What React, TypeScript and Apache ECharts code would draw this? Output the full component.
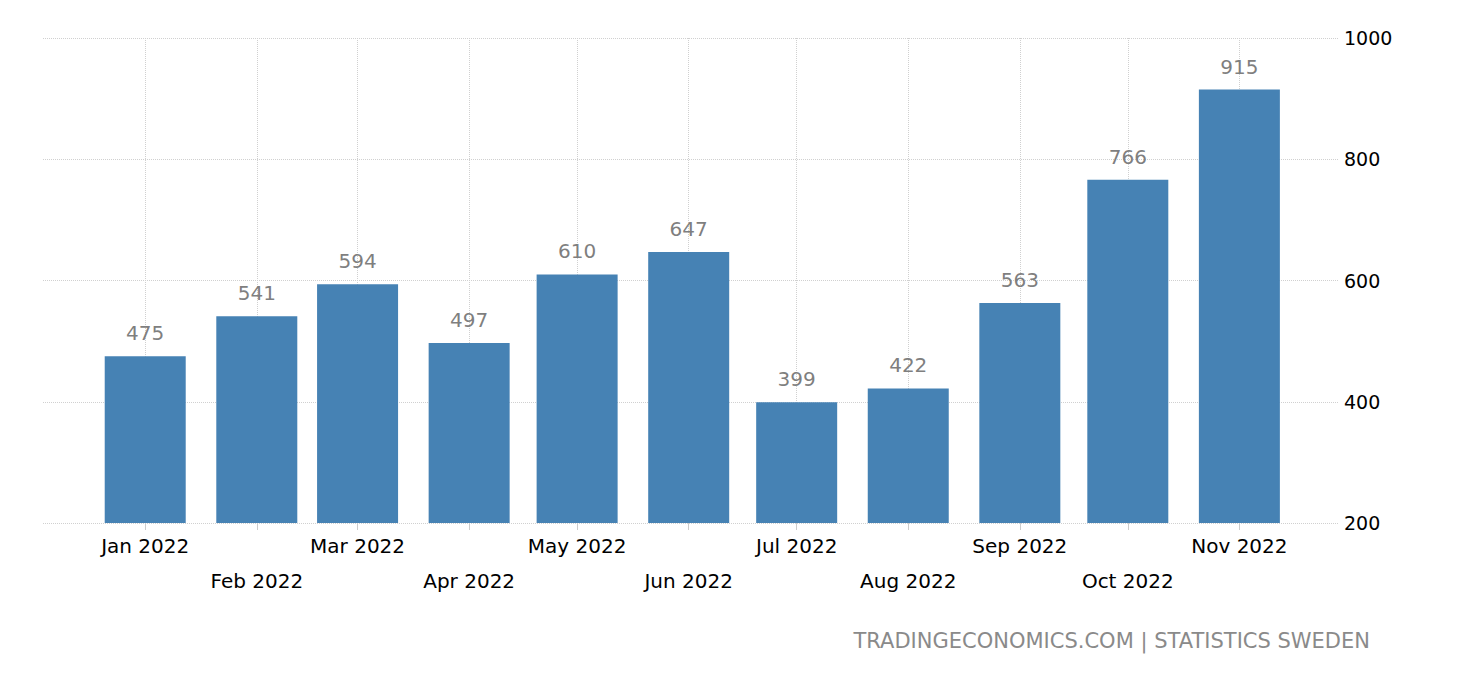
import React, { useEffect, useRef } from "react";
import * as echarts from "echarts";

const monthNames = ["Jan", "Feb", "Mar", "Apr", "May", "Jun", "Jul", "Aug", "Sep", "Oct", "Nov", "Dec"];
const year = 2022;
const values = [475, 541, 594, 497, 610, 647, 399, 422, 563, 766, 915];
const yTicks = [200, 400, 600, 800, 1000];
const source = "TRADINGECONOMICS.COM | STATISTICS SWEDEN";

const DAY = 24 * 3600 * 1000;

export default function App() {
  const ref = useRef<HTMLDivElement>(null);
  useEffect(() => {
    document.body.style.margin = "0";
    const chart = echarts.init(ref.current!, null, { renderer: "svg" });
    const dates = values.map((_, i) => new Date(year, i, 1).getTime());
    const data = dates.map((d, i) => [d, values[i]]);
    const font = "DejaVu Sans";
    const gridLeft = 43;
    const gridRight = 122;
    const barWidth = 81;
    const axisLen = 1460 - gridLeft - gridRight;
    // desired visible extent
    const minD = dates[0] - 28.4 * DAY;
    const maxD = dates[dates.length - 1] + 27.4 * DAY;
    // ECharts widens a bar series' base axis by the bar width; pre-compensate
    const R = maxD - minD;
    const r = R * (1 - barWidth / axisLen);
    const shrink = (R - r) / 2;
    chart.setOption({
      animation: false,
      grid: { left: gridLeft, right: gridRight, top: 38, bottom: 157, containLabel: false },
      xAxis: {
        type: "time",
        min: minD + shrink,
        max: maxD - shrink,
        splitNumber: 12,
        axisLine: { show: false },
        axisTick: { show: true, length: 7, lineStyle: { color: "#cccccc" } },
        splitLine: {
          show: true,
          showMinLine: false,
          showMaxLine: false,
          lineStyle: { color: "#d0d0d0", type: "dotted" },
        },
        axisLabel: {
          margin: 5,
          fontFamily: font,
          fontSize: 20,
          color: "#000",
          lineHeight: 35,
          hideOverlap: false,
          formatter: (v: number) => {
            const d = new Date(v);
            const m = d.getMonth();
            const txt = monthNames[m] + " " + d.getFullYear();
            return m % 2 === 1 ? "\n" + txt : txt;
          },
        },
      },
      yAxis: {
        type: "value",
        position: "right",
        min: yTicks[0],
        max: yTicks[yTicks.length - 1],
        interval: 200,
        axisLine: { show: false },
        axisTick: { show: false },
        splitLine: { show: true, lineStyle: { color: "#d0d0d0", type: "dotted" } },
        axisLabel: {
          margin: 6,
          fontFamily: font,
          fontSize: 19,
          color: "#000",
          formatter: (v: number) => String(v),
        },
      },
      series: [
        {
          type: "bar",
          data,
          barWidth,
          itemStyle: { color: "#4682b4" },
          label: {
            show: true,
            position: "top",
            distance: 13,
            fontFamily: font,
            fontSize: 20,
            color: "#7f7f7f",
            formatter: (p: any) => String(p.value[1]),
          },
        },
      ],
      graphic: [
        {
          type: "text",
          right: 90,
          top: 630,
          style: { text: source, fontFamily: font, fontSize: 21, fill: "#8a8a8a" },
        },
      ],
    });
    return () => chart.dispose();
  }, []);
  return <div ref={ref} style={{ width: 1460, height: 680 }} />;
}
